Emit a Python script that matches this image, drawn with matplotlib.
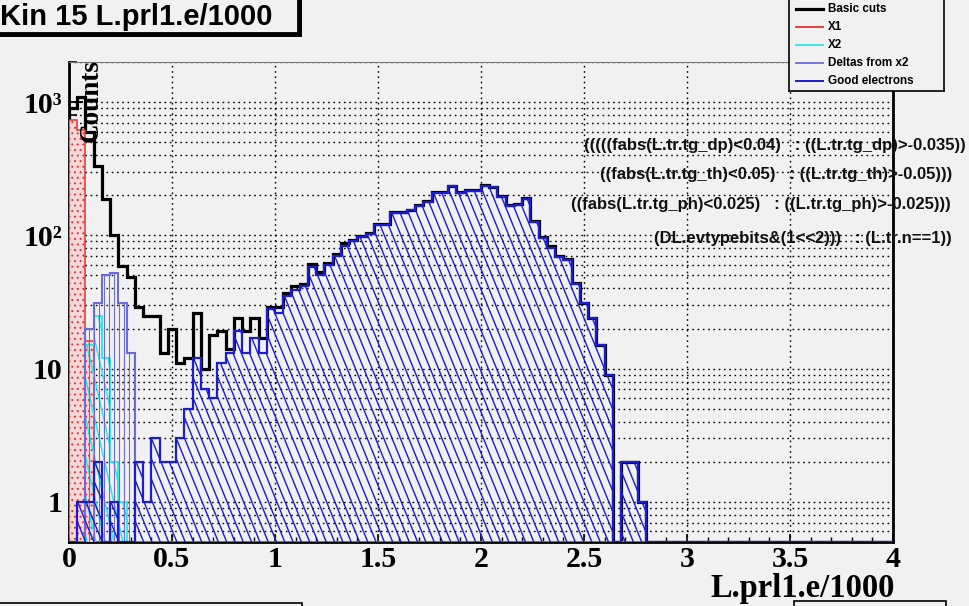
import numpy as np
import matplotlib
matplotlib.use('Agg')
import matplotlib.pyplot as plt
from matplotlib.collections import LineCollection
from matplotlib.patches import Rectangle
from matplotlib.ticker import FixedLocator, LogLocator, MultipleLocator, NullFormatter

# histogram contents, 100 bins of 0.04 from 0 to 4 (bins after the last value are empty)
basic_cuts = [900, 1100, 600, 330, 187, 100, 59, 49, 29, 25,
              25, 13, 20, 11, 12, 26, 10, 18, 19, 14,
              24, 19, 24, 17, 29, 29, 37, 42, 43, 61,
              53, 62, 72, 87, 93, 99, 104, 121, 121, 150,
              150, 156, 168, 181, 211, 211, 235, 211, 218, 218,
              237, 232, 197, 168, 171, 191, 128, 98, 83, 70,
              66, 44, 31, 24, 15, 9, 0, 2, 2, 1]
x1 = [730, 620, 16]
x2 = [0, 0, 15, 25, 12, 2, 1]
deltas = [0, 0, 20, 31, 50, 52, 31, 13]
good_electrons = [0, 1, 1, 2, 0, 1, 0, 0, 2, 1,
                  3, 2, 2, 3, 5, 12, 7, 6, 11, 13,
                  19, 13, 17, 13, 28, 26, 35, 39, 42, 58,
                  50, 60, 70, 83, 91, 97, 102, 119, 119, 148,
                  148, 154, 166, 179, 209, 209, 233, 209, 216, 216,
                  235, 230, 195, 166, 169, 189, 126, 96, 81, 69,
                  65, 43, 31, 24, 15, 9, 0, 2, 2, 1]

legend_labels = ['Basic cuts', 'X1', 'X2', 'Deltas from x2', 'Good electrons']
cut_texts = ['(((((fabs(L.tr.tg_dp)<0.04)   : ((L.tr.tg_dp)>-0.035))',
             '((fabs(L.tr.tg_th)<0.05)   : ((L.tr.tg_th)>-0.05)))',
             '((fabs(L.tr.tg_ph)<0.025)   : ((L.tr.tg_ph)>-0.025)))',
             '(DL.evtypebits&(1<<2)))   : (L.tr.n==1))']

NBINS = 100
edges = np.linspace(0, 4, NBINS + 1)
YMIN, YMAX = 0.5, 2000
BG = '#f1f1f1'

# colores
C_BLACK = 'black'
C_RED = '#e8302c'
C_CYAN = '#2ce6e6'
C_DELTA = '#6c6cd8'
C_BLUE = '#1c1cd0'

# geometria en pixeles
W_FIG, H_FIG = 970, 606
AX_L, AX_R, AX_T, AX_B = 69, 893, 62, 542
AX_W, AX_H = AX_R - AX_L, AX_B - AX_T

plt.rcParams['hatch.linewidth'] = 0.7


def full(vals):
    v = np.zeros(NBINS)
    v[:len(vals)] = vals
    return np.maximum(v, YMIN)


def hatch(ax, patch, color, step, run, lw=1.0):
    # lineas de rayado recortadas al histograma (run = desplazamiento horizontal en toda la altura)
    x0s = np.arange(-run - step, AX_W + step, step)
    segs = [[(x / AX_W, 1.0), ((x + run) / AX_W, 0.0)] for x in x0s]
    lc = LineCollection(segs, colors=color, linewidths=lw, transform=ax.transAxes,
                        zorder=patch.get_zorder() - 0.05)
    ax.add_collection(lc, autolim=False)
    lc.set_clip_path(patch)


fig = plt.figure(figsize=(W_FIG / 100, H_FIG / 100), dpi=100, facecolor=BG)
ax = fig.add_axes([AX_L / W_FIG, 1 - AX_B / H_FIG, AX_W / W_FIG, AX_H / H_FIG], facecolor=BG)
ax.set_yscale('log')

# 1. Histogramas
h_basic = ax.stairs(full(basic_cuts), edges, baseline=YMIN, color=C_BLACK, lw=2.3, zorder=3)

h_x1 = ax.stairs(full(x1), edges, baseline=YMIN, fill=True, facecolor='#f6d8d8',
                 edgecolor=C_RED, hatch='...', lw=1.1, zorder=3.2)

h_x2 = ax.stairs(full(x2), edges, baseline=YMIN, color=C_CYAN, lw=1.3, zorder=3.4)
hatch(ax, h_x2, C_CYAN, 9, 110, lw=1.1)

h_delta = ax.stairs(full(deltas), edges, baseline=YMIN, color=C_DELTA, lw=1.5, zorder=3.6)
hatch(ax, h_delta, C_DELTA, 5, 0, lw=0.8)

h_good = ax.stairs(full(good_electrons), edges, baseline=YMIN, color=C_BLUE, lw=1.6, zorder=4)
hatch(ax, h_good, C_BLUE, 8.3, 195, lw=1.0)

# 2. Ejes
ax.set_xlim(0, 4)
ax.set_ylim(YMIN, YMAX)
ax.xaxis.set_minor_locator(MultipleLocator(0.1))
ax.yaxis.set_major_locator(FixedLocator([1, 10, 100, 1000]))
ax.yaxis.set_minor_locator(LogLocator(base=10, subs=np.arange(2, 10)))
ax.yaxis.set_minor_formatter(NullFormatter())
ax.set_yticklabels(['1', '10', '10\u00b2', '10\u00b3'])
ax.set_xticks([0, 0.5, 1, 1.5, 2, 2.5, 3, 3.5, 4])
ax.set_xticklabels(['0', '0.5', '1', '1.5', '2', '2.5', '3', '3.5', '4'])

for lab in ax.get_xticklabels() + ax.get_yticklabels():
    lab.set_family('Liberation Serif')
    lab.set_weight('bold')
    lab.set_size(21.5)

ax.tick_params(axis='x', which='major', direction='in', length=6, width=1.2, pad=3)
ax.tick_params(axis='x', which='minor', direction='in', length=3.5, width=1.0)
ax.tick_params(axis='y', which='major', direction='in', length=10, width=1.3, pad=5)
ax.tick_params(axis='y', which='minor', direction='in', length=6, width=1.2)

dots = (0, (1.2, 2.6))
ax.grid(True, axis='x', which='major', color='black', linestyle=dots, lw=1.0)
ax.grid(True, axis='y', which='both', color='black', linestyle=dots, lw=1.0)
ax.set_axisbelow(True)

for side in ['left', 'bottom', 'right']:
    ax.spines[side].set_linewidth(2)
    ax.spines[side].set_color('black')
ax.spines['top'].set_linewidth(0.8)
ax.spines['top'].set_color('#777777')

# 3. Titulos de ejes
fig.text(91 / W_FIG, 1 - 59 / H_FIG, 'Counts', rotation=90, ha='center', va='top',
         family='Liberation Serif', weight='bold', size=19.5, zorder=10)
fig.text(895 / W_FIG, 1 - 589 / H_FIG, 'L.prl1.e/1000', ha='right', va='center',
         family='Liberation Serif', weight='bold', size=23.5)

# 4. Cortes aplicados
cut_pos = [(966, 145), (952, 175), (951, 205), (952, 238)]
for txt, (xr, yc) in zip(cut_texts, cut_pos):
    fig.text(xr / W_FIG, 1 - yc / H_FIG, txt, ha='right', va='center',
             family='Liberation Sans', weight='bold', size=12, color='#111111', zorder=10)

# 5. Caja del titulo con sombra
fig.patches.append(Rectangle((-10 / W_FIG, 1 - 37 / H_FIG), 312 / W_FIG, 50 / H_FIG,
                             transform=fig.transFigure, facecolor='black', edgecolor='none', zorder=1))
fig.patches.append(Rectangle((-14 / W_FIG, 1 - 33 / H_FIG), 312 / W_FIG, 50 / H_FIG,
                             transform=fig.transFigure, facecolor=BG, edgecolor='black', lw=1.3, zorder=2))
fig.text(0, 1 - 17 / H_FIG, 'Kin 15 L.prl1.e/1000', ha='left', va='center',
         family='Liberation Sans', weight='bold', size=21, zorder=3)

# cajas cortadas en el borde inferior
fig.patches.append(Rectangle((-5 / W_FIG, -20 / H_FIG), 307 / W_FIG, 23 / H_FIG,
                             transform=fig.transFigure, facecolor=BG, edgecolor='black', lw=1.2))
fig.patches.append(Rectangle((794 / W_FIG, -20 / H_FIG), 152 / W_FIG, 25 / H_FIG,
                             transform=fig.transFigure, facecolor=BG, edgecolor='black', lw=1.2))

# 6. Leyenda
lax = fig.add_axes([789 / W_FIG, 1 - 91 / H_FIG, 155 / W_FIG, 93 / H_FIG], facecolor=BG)
lax.set_xlim(789, 944)
lax.set_ylim(91, -2)
lax.set_xticks([])
lax.set_yticks([])
for sp in lax.spines.values():
    sp.set_linewidth(1.2)
legend_colors = [C_BLACK, C_RED, C_CYAN, C_DELTA, C_BLUE]
legend_widths = [2.3, 1.3, 1.3, 1.3, 1.4]
for i, (lab, col, lw) in enumerate(zip(legend_labels, legend_colors, legend_widths)):
    yy = 9 + i * 18
    lax.plot([796, 823], [yy, yy], color=col, lw=lw)
    lax.text(828, yy, lab, ha='left', va='center', family='Liberation Sans',
             weight='bold', size=8.4)

fig.savefig('out.png', dpi=100, facecolor=BG)
